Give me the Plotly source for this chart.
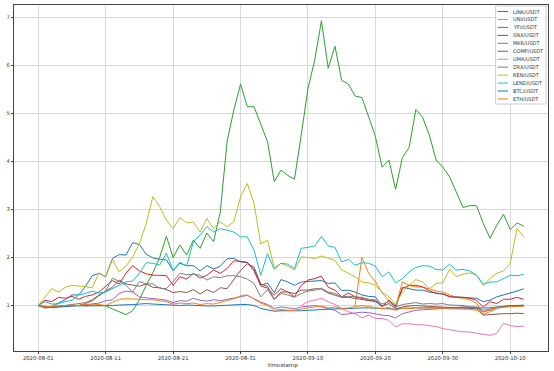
import pandas as pd
import plotly.graph_objects as go

start = "2020-08-01"
n_days = 73
dates = pd.date_range(start, periods=n_days, freq="D")

names = ["LINK/USDT", "UNI/USDT", "YFI/USDT", "SNX/USDT", "MKR/USDT", "COMP/USDT",
         "UMA/USDT", "ZRX/USDT", "REN/USDT", "LEND/USDT", "BTC/USDT", "ETH/USDT"]
colors = ["#1f77b4", "#ff7f0e", "#2ca02c", "#d62728", "#9467bd", "#8c564b",
          "#e377c2", "#7f7f7f", "#bcbd22", "#17becf", "#1f77b4", "#ff7f0e"]

link = [1.0, 0.95, 0.98, 1.05, 1.12, 1.22, 1.22, 1.40, 1.62, 1.67,
        1.60, 1.98, 2.06, 2.05, 2.31, 2.27, 2.07, 1.99, 1.96, 1.95,
        1.73, 1.88, 1.83, 1.83, 1.72, 1.83, 1.76, 1.82, 1.97, 1.98,
        1.91, 1.89, 1.75, 1.42, 1.47, 1.27, 1.54, 1.49, 1.42, 1.49,
        1.50, 1.51, 1.52, 1.46, 1.47, 1.31, 1.32, 1.28, 1.22, 1.19,
        1.18, 0.98, 1.11, 0.95, 1.38, 1.35, 1.32, 1.32, 1.28, 1.26,
        1.24, 1.19, 1.18, 1.17, 1.15, 1.15, 1.08, 1.11, 1.18, 1.22,
        1.25, 1.30, 1.35]
uni = [None] * 47 + [1.0, 2.0, 1.67, 1.50, 1.26, 1.10, 0.98, 1.49, 1.42, 1.39,
                     1.38, 1.35, 1.30, 1.28, 1.22, 1.17, 1.15, 1.12, 1.05, 0.82,
                     0.87, 0.94, 0.97, 0.99, 0.99, 0.99]
yfi = [1.0, 0.98, 0.97, 0.99, 1.0, 1.01, 0.99, 1.0, 1.01, 1.0,
       0.99, 0.93, 0.87, 0.81, 0.89, 1.12, 1.42, 1.68, 2.0, 2.44,
       2.0, 2.26, 2.05, 2.36, 2.19, 2.51, 2.33, 2.95, 4.41, 5.07,
       5.61, 5.14, 5.14, 4.76, 4.41, 3.58, 3.82, 3.71, 3.63, 4.55,
       5.52, 6.11, 6.93, 5.94, 6.40, 5.69, 5.61, 5.36, 5.33, 4.93,
       4.52, 3.88, 4.03, 3.42, 4.08, 4.29, 5.08, 4.92, 4.55, 4.03,
       3.88, 3.68, 3.37, 3.04, 3.08, 3.08, 2.71, 2.40, 2.67, 2.90,
       2.58, 2.72, 2.65]
snx = [1.0, 1.11, 1.08, 1.17, 1.15, 1.19, 1.13, 1.19, 1.22, 1.28,
       1.40, 1.52, 1.45, 1.67, 1.83, 1.72, 1.66, 1.63, 1.63, 1.62,
       1.42, 1.60, 1.55, 1.67, 1.57, 1.63, 1.74, 1.67, 1.77, 1.93,
       1.92, 1.90, 1.72, 1.41, 1.36, 1.22, 1.35, 1.28, 1.18, 1.42,
       1.53, 1.56, 1.61, 1.38, 1.32, 1.18, 1.26, 1.18, 1.15, 1.11,
       1.11, 0.97, 1.11, 0.99, 1.35, 1.42, 1.42, 1.39, 1.31, 1.25,
       1.24, 1.18, 1.17, 1.17, 1.15, 1.11, 0.97, 1.08, 1.04, 1.13,
       1.13, 1.17, 1.13]
mkr = [1.0, 0.96, 0.97, 0.98, 1.0, 1.0, 1.0, 1.02, 1.03, 1.05,
       1.10, 1.12, 1.25, 1.30, 1.28, 1.18, 1.16, 1.15, 1.13, 1.11,
       1.06, 1.10, 1.09, 1.15, 1.11, 1.09, 1.12, 1.10, 1.13, 1.15,
       1.18, 1.21, 1.14, 1.07, 1.02, 0.94, 0.97, 0.95, 0.93, 0.97,
       0.98, 1.0, 0.97, 0.93, 0.90, 0.81, 0.83, 0.84, 0.86, 0.85,
       0.82, 0.80, 0.79, 0.74, 0.83, 0.86, 0.90, 0.91, 0.92, 0.94,
       0.95, 0.96, 0.97, 0.97, 0.97, 0.95, 0.87, 0.90, 0.95, 0.97,
       0.98, 0.99, 0.99]
comp = [1.0, 0.95, 0.96, 0.97, 0.98, 0.99, 1.0, 1.04, 1.10, 1.20,
        1.30, 1.38, 1.53, 1.45, 1.42, 1.40, 1.45, 1.38, 1.37, 1.33,
        1.27, 1.29, 1.27, 1.33, 1.24, 1.33, 1.27, 1.37, 1.35, 1.55,
        1.73, 1.87, 1.80, 1.45, 1.40, 1.13, 1.28, 1.28, 1.25, 1.32,
        1.32, 1.35, 1.34, 1.26, 1.22, 1.17, 1.17, 1.15, 1.13, 1.10,
        1.08, 0.99, 1.04, 0.93, 0.97, 0.99, 1.0, 0.99, 0.98, 0.97,
        0.97, 0.96, 0.95, 0.95, 0.94, 0.93, 0.80, 0.81, 0.83, 0.83,
        0.83, 0.84, 0.83]
uma = [None] * 39 + [1.0, 1.08, 1.11, 1.15, 1.08, 1.02, 0.94, 0.87, 0.83, 0.74,
                     0.80, 0.73, 0.73, 0.69, 0.55, 0.62, 0.62, 0.60, 0.60, 0.58,
                     0.56, 0.52, 0.49, 0.47, 0.45, 0.45, 0.42, 0.40, 0.38, 0.42,
                     0.63, 0.58, 0.56, 0.57]
zrx = [1.0, 0.97, 0.96, 0.98, 1.0, 1.02, 1.03, 1.06, 1.12, 1.22,
       1.30, 1.57, 1.50, 1.42, 1.28, 1.50, 1.45, 1.45, 1.36, 1.35,
       1.50, 1.67, 1.64, 1.65, 1.63, 1.53, 1.60, 1.58, 1.62, 1.62,
       1.60, 1.55, 1.46, 1.18, 1.33, 1.12, 1.25, 1.22, 1.17, 1.25,
       1.30, 1.32, 1.36, 1.28, 1.25, 1.18, 1.19, 1.18, 1.17, 1.13,
       1.11, 1.03, 1.08, 0.97, 1.02, 1.04, 1.06, 1.03, 1.04, 1.03,
       1.04, 1.01, 1.0, 1.0, 0.97, 0.97, 0.90, 0.93, 0.96, 0.98,
       0.99, 0.99, 0.99]
ren = [1.0, 1.18, 1.35, 1.28, 1.38, 1.42, 1.41, 1.39, 1.37, 1.68,
       1.60, 1.96, 1.70, 1.82, 2.01, 2.29, 2.70, 3.27, 3.06, 2.78,
       2.60, 2.83, 2.72, 2.74, 2.53, 2.81, 2.60, 2.74, 2.64, 2.74,
       3.26, 3.54, 3.13, 2.28, 2.36, 1.78, 1.88, 1.82, 1.74, 2.01,
       2.0, 1.98, 2.03, 1.98, 1.94, 1.74, 1.67, 1.60, 1.49, 1.47,
       1.42, 1.28, 1.18, 1.02, 1.28, 1.42, 1.54, 1.49, 1.35, 1.46,
       1.47, 1.75, 1.60, 1.65, 1.68, 1.63, 1.42, 1.56, 1.67, 1.72,
       1.88, 2.60, 2.43]
lend = [1.0, 1.08, 1.03, 1.04, 1.08, 1.11, 1.22, 1.25, 1.30, 1.26,
        1.28, 1.35, 1.42, 1.49, 1.51, 1.67, 1.89, 1.88, 1.84, 2.09,
        1.73, 1.90, 1.82, 2.33, 2.47, 2.64, 2.53, 2.60, 2.57, 2.53,
        2.43, 2.43, 2.15, 1.63, 2.08, 1.75, 1.88, 1.86, 1.77, 2.19,
        2.21, 2.24, 2.44, 2.24, 2.21, 1.91, 1.96, 1.84, 1.89, 1.88,
        1.82, 1.60, 1.70, 1.47, 1.56, 1.70, 1.79, 1.83, 1.82, 1.75,
        1.74, 1.86, 1.74, 1.75, 1.72, 1.63, 1.44, 1.49, 1.49, 1.56,
        1.63, 1.62, 1.65]
btc = [1.0, 0.97, 0.96, 0.97, 0.98, 0.99, 1.0, 0.99, 0.99, 1.0,
       1.0, 1.0, 1.01, 1.01, 1.02, 1.03, 1.04, 1.03, 1.02, 1.01,
       1.0, 1.0, 1.01, 1.0, 0.99, 0.99, 0.99, 1.0, 1.0, 1.01,
       1.02, 1.02, 1.0, 0.94, 0.91, 0.88, 0.89, 0.89, 0.88, 0.89,
       0.90, 0.91, 0.91, 0.92, 0.93, 0.93, 0.94, 0.94, 0.95, 0.95,
       0.95, 0.94, 0.93, 0.92, 0.94, 0.95, 0.95, 0.95, 0.95, 0.95,
       0.95, 0.95, 0.95, 0.94, 0.94, 0.94, 0.94, 0.95, 0.97, 0.99,
       1.0, 1.0, 1.01]
eth = [1.0, 0.97, 0.98, 0.99, 1.0, 1.01, 1.0, 1.02, 1.01, 1.02,
       1.0, 1.07, 1.13, 1.14, 1.14, 1.13, 1.12, 1.12, 1.10, 1.08,
       1.03, 1.05, 1.04, 1.05, 1.02, 1.04, 1.03, 1.06, 1.10, 1.14,
       1.20, 1.22, 1.13, 1.05, 1.0, 0.90, 0.92, 0.90, 0.90, 0.93,
       0.95, 0.97, 0.99, 0.95, 0.97, 0.94, 0.95, 0.98, 1.0, 0.98,
       0.96, 0.93, 0.96, 0.90, 0.95, 0.93, 0.95, 0.95, 0.95, 0.93,
       0.95, 0.93, 0.93, 0.92, 0.92, 0.90, 0.87, 0.92, 0.96, 0.97,
       0.98, 0.98, 0.98]

series = [link, uni, yfi, snx, mkr, comp, uma, zrx, ren, lend, btc, eth]

y_ticks = [1, 2, 3, 4, 5, 6, 7]
x_label = "timestamp"

W, H = 554, 371
L, R, T, B = 14, 5.5, 5, 20
pw, ph = W - L - R, H - T - B

fig = go.Figure()
for name, col, vals in zip(names, colors, series):
    fig.add_trace(go.Scatter(x=dates, y=vals, mode="lines", name=name,
                             line=dict(color=col, width=1), showlegend=False,
                             connectgaps=False))

# x range with matplotlib-like 5% margins
span = dates[-1] - dates[0]
xr = [dates[0] - span * 0.05, dates[-1] + span * 0.05]
all_vals = [v for s in series for v in s if v is not None]
vmin, vmax = min(all_vals), max(all_vals)
vs = vmax - vmin
yr = [vmin - 0.05 * vs, vmax + 0.05 * vs]

font_family = "DejaVu Sans"
fig.update_layout(
    width=W, height=H,
    margin=dict(l=L, r=R, t=T, b=B, pad=0),
    paper_bgcolor="white", plot_bgcolor="white",
    font=dict(family=font_family, size=5.3, color="#333"),
    xaxis=dict(range=xr, type="date", tick0=start, dtick=10 * 86400000,
               tickformat="%Y-%m-%d", showgrid=True, gridcolor="#d8d8d8",
               gridwidth=1, showline=True, linecolor="#444", linewidth=1,
               mirror=True, ticks="outside", ticklen=2, tickcolor="#444",
               zeroline=False),
    yaxis=dict(range=yr, tickvals=y_ticks, showgrid=True, gridcolor="#d8d8d8",
               gridwidth=1, showline=True, linecolor="#444", linewidth=1,
               mirror=True, ticks="outside", ticklen=2, tickcolor="#444",
               zeroline=False),
)

def px2paper(x, y):
    return (x - L) / pw, 1 - (y - T) / ph

# x axis label
ax_x, ax_y = px2paper(283, 365.5)
fig.add_annotation(xref="paper", yref="paper", x=ax_x, y=ax_y, text=x_label,
                   showarrow=False, xanchor="center", yanchor="middle",
                   font=dict(size=5.5, color="#333", family=font_family))

# compact legend (matplotlib style)
bx0, by0 = px2paper(496, 6)
bx1, by1 = px2paper(546.5, 104)
fig.add_shape(type="rect", xref="paper", yref="paper", x0=bx0, y0=by0, x1=bx1, y1=by1,
              line=dict(color="#d0d0d0", width=1), fillcolor="rgba(255,255,255,0.8)",
              layer="above")
for i, (name, col) in enumerate(zip(names, colors)):
    yc = 11.5 + 7.95 * i
    lx0, ly = px2paper(498, yc)
    lx1, _ = px2paper(508.5, yc)
    fig.add_shape(type="line", xref="paper", yref="paper", x0=lx0, x1=lx1, y0=ly, y1=ly,
                  line=dict(color=col, width=1), layer="above")
    tx, _ = px2paper(511.5, yc)
    fig.add_annotation(xref="paper", yref="paper", x=tx, y=ly, text=name,
                       showarrow=False, xanchor="left", yanchor="middle",
                       font=dict(size=5, color="#333", family=font_family))

fig.write_html("out.html",
               config={"displayModeBar": False},
               post_script="document.body.style.margin='0';document.body.style.padding='0';")
